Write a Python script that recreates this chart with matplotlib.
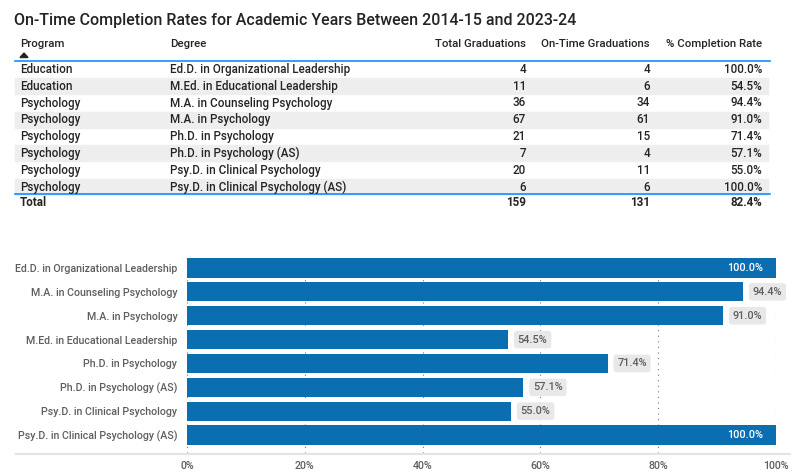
import matplotlib
matplotlib.use("Agg")
import matplotlib.pyplot as plt
from matplotlib.patches import Rectangle
from matplotlib.lines import Line2D
from matplotlib.ticker import PercentFormatter

plt.rcParams['font.family'] = ['Roboto', 'DejaVu Sans']

W, H = 798, 474

title = "On-Time Completion Rates for Academic Years Between 2014-15 and 2023-24"
headers = ["Program", "Degree", "Total Graduations", "On-Time Graduations", "% Completion Rate"]
programs = ["Education", "Education", "Psychology", "Psychology", "Psychology",
            "Psychology", "Psychology", "Psychology"]
degrees = ["Ed.D. in Organizational Leadership", "M.Ed. in Educational Leadership",
           "M.A. in Counseling Psychology", "M.A. in Psychology", "Ph.D. in Psychology",
           "Ph.D. in Psychology (AS)", "Psy.D. in Clinical Psychology",
           "Psy.D. in Clinical Psychology (AS)"]
total_grads = [4, 11, 36, 67, 21, 7, 20, 6]
ontime_grads = [4, 6, 34, 61, 15, 4, 11, 6]
rates = [100.0, 54.5, 94.4, 91.0, 71.4, 57.1, 55.0, 100.0]
total_row = ["Total", "", "159", "131", "82.4%"]

# bar chart (sorted alphabetically by degree)
bar_degrees = ["Ed.D. in Organizational Leadership", "M.A. in Counseling Psychology",
               "M.A. in Psychology", "M.Ed. in Educational Leadership",
               "Ph.D. in Psychology", "Ph.D. in Psychology (AS)",
               "Psy.D. in Clinical Psychology", "Psy.D. in Clinical Psychology (AS)"]
bar_rates = [100.0, 94.4, 91.0, 54.5, 71.4, 57.1, 55.0, 100.0]

fig = plt.figure(figsize=(W / 100, H / 100), dpi=100)
fig.patch.set_facecolor("white")


def fx(x):
    return x / W


def fy(y):
    return 1 - y / H


txt_col = "#252423"
WT = "medium"
# Title
fig.text(fx(14), fy(20), title, fontsize=11.5, color="#252423", va="center", ha="left",
         fontweight=WT)

# Table
col_x = [20, 170, 526, 650, 762]
col_ha = ["left", "left", "right", "right", "right"]
hdr_y = 44
for x, ha, h in zip(col_x, col_ha, headers):
    fig.text(fx(x), fy(hdr_y), h, fontsize=8.2, color=txt_col, ha=ha, va="center",
             fontweight=WT)
# sort arrow
fig.patches.append(plt.Polygon([[fx(20), fy(57.5)], [fx(28), fy(57.5)], [fx(24), fy(53)]],
                               closed=True, transform=fig.transFigure, color="#252423"))
fig.add_artist(Line2D([fx(15), fx(770)], [fy(60.5), fy(60.5)], color="#118DFF", lw=1.2,
                      transform=fig.transFigure))

row_h = 16.8
row_top0 = 61
for i in range(len(programs)):
    top = row_top0 + i * row_h
    cy = top + row_h / 2
    if i % 2 == 1:
        fig.patches.append(Rectangle((fx(15), fy(top + row_h - 0.5)), fx(768) - fx(15),
                                     (row_h - 1) / H, transform=fig.transFigure,
                                     color="#EEEEEE", zorder=0))
    vals = [programs[i], degrees[i], str(total_grads[i]), str(ontime_grads[i]),
            f"{rates[i]:.1f}%"]
    for x, ha, v in zip(col_x, col_ha, vals):
        fig.text(fx(x), fy(cy), v, fontsize=8.4, color=txt_col, ha=ha, va="center",
                 fontweight=WT)

fig.add_artist(Line2D([fx(15), fx(770)], [fy(193.5), fy(193.5)], color="#118DFF", lw=1.2,
                      transform=fig.transFigure))
for x, ha, v in zip(col_x, col_ha, total_row):
    if v:
        fig.text(fx(x), fy(203), v, fontsize=8.4, color="#252423", ha=ha, va="center",
                 fontweight="bold")

# Bar chart
ax = fig.add_axes([fx(187), fy(453), fx(776) - fx(187), (453 - 253) / H])
ypos = list(range(len(bar_degrees)))
bar_col = "#0A6EB0"
ax.barh(ypos, bar_rates, height=0.8, color=bar_col, zorder=2)
ax.set_xlim(0, 100)
ax.set_ylim(7 + (453 - 435) / 23.86, -(268 - 253) / 23.86)
ax.set_yticks(ypos)
ax.set_yticklabels(bar_degrees, fontsize=7.7, color="#605E5C", fontweight=WT)
ax.set_xticks([0, 20, 40, 60, 80, 100])
ax.xaxis.set_major_formatter(PercentFormatter(decimals=0))
ax.tick_params(axis="x", labelsize=7.7, labelcolor="#605E5C", length=0, pad=6)
for lab in ax.get_xticklabels():
    lab.set_fontweight(WT)
ax.tick_params(axis="y", length=0, pad=7)
for s in ax.spines.values():
    s.set_visible(False)
ax.grid(axis="x", color="#777777", linestyle=(0, (1, 4)), lw=0.8, zorder=0)
ax.set_axisbelow(True)

for y, r in zip(ypos, bar_rates):
    lab = f"{r:.1f}%"
    if r >= 99:
        ax.annotate(lab, (r, y), xytext=(-9, 0), textcoords="offset points",
                    ha="right", va="center", fontsize=7.8, color="white", zorder=4,
                    fontweight=WT)
    else:
        ax.annotate(lab, (r, y), xytext=(7, 0), textcoords="offset points",
                    ha="left", va="center", fontsize=7.8, color="#605E5C", zorder=4,
                    fontweight=WT,
                    bbox=dict(boxstyle="round,pad=0.35,rounding_size=0.3",
                              fc="#E8E8E8", ec="none"))

# bottom shadow line
fig.add_artist(Line2D([fx(16), fx(790)], [fy(454), fy(454)], color="#E3E3E3", lw=1.5,
                      transform=fig.transFigure))

fig.savefig("out.png", dpi=100, facecolor="white")
